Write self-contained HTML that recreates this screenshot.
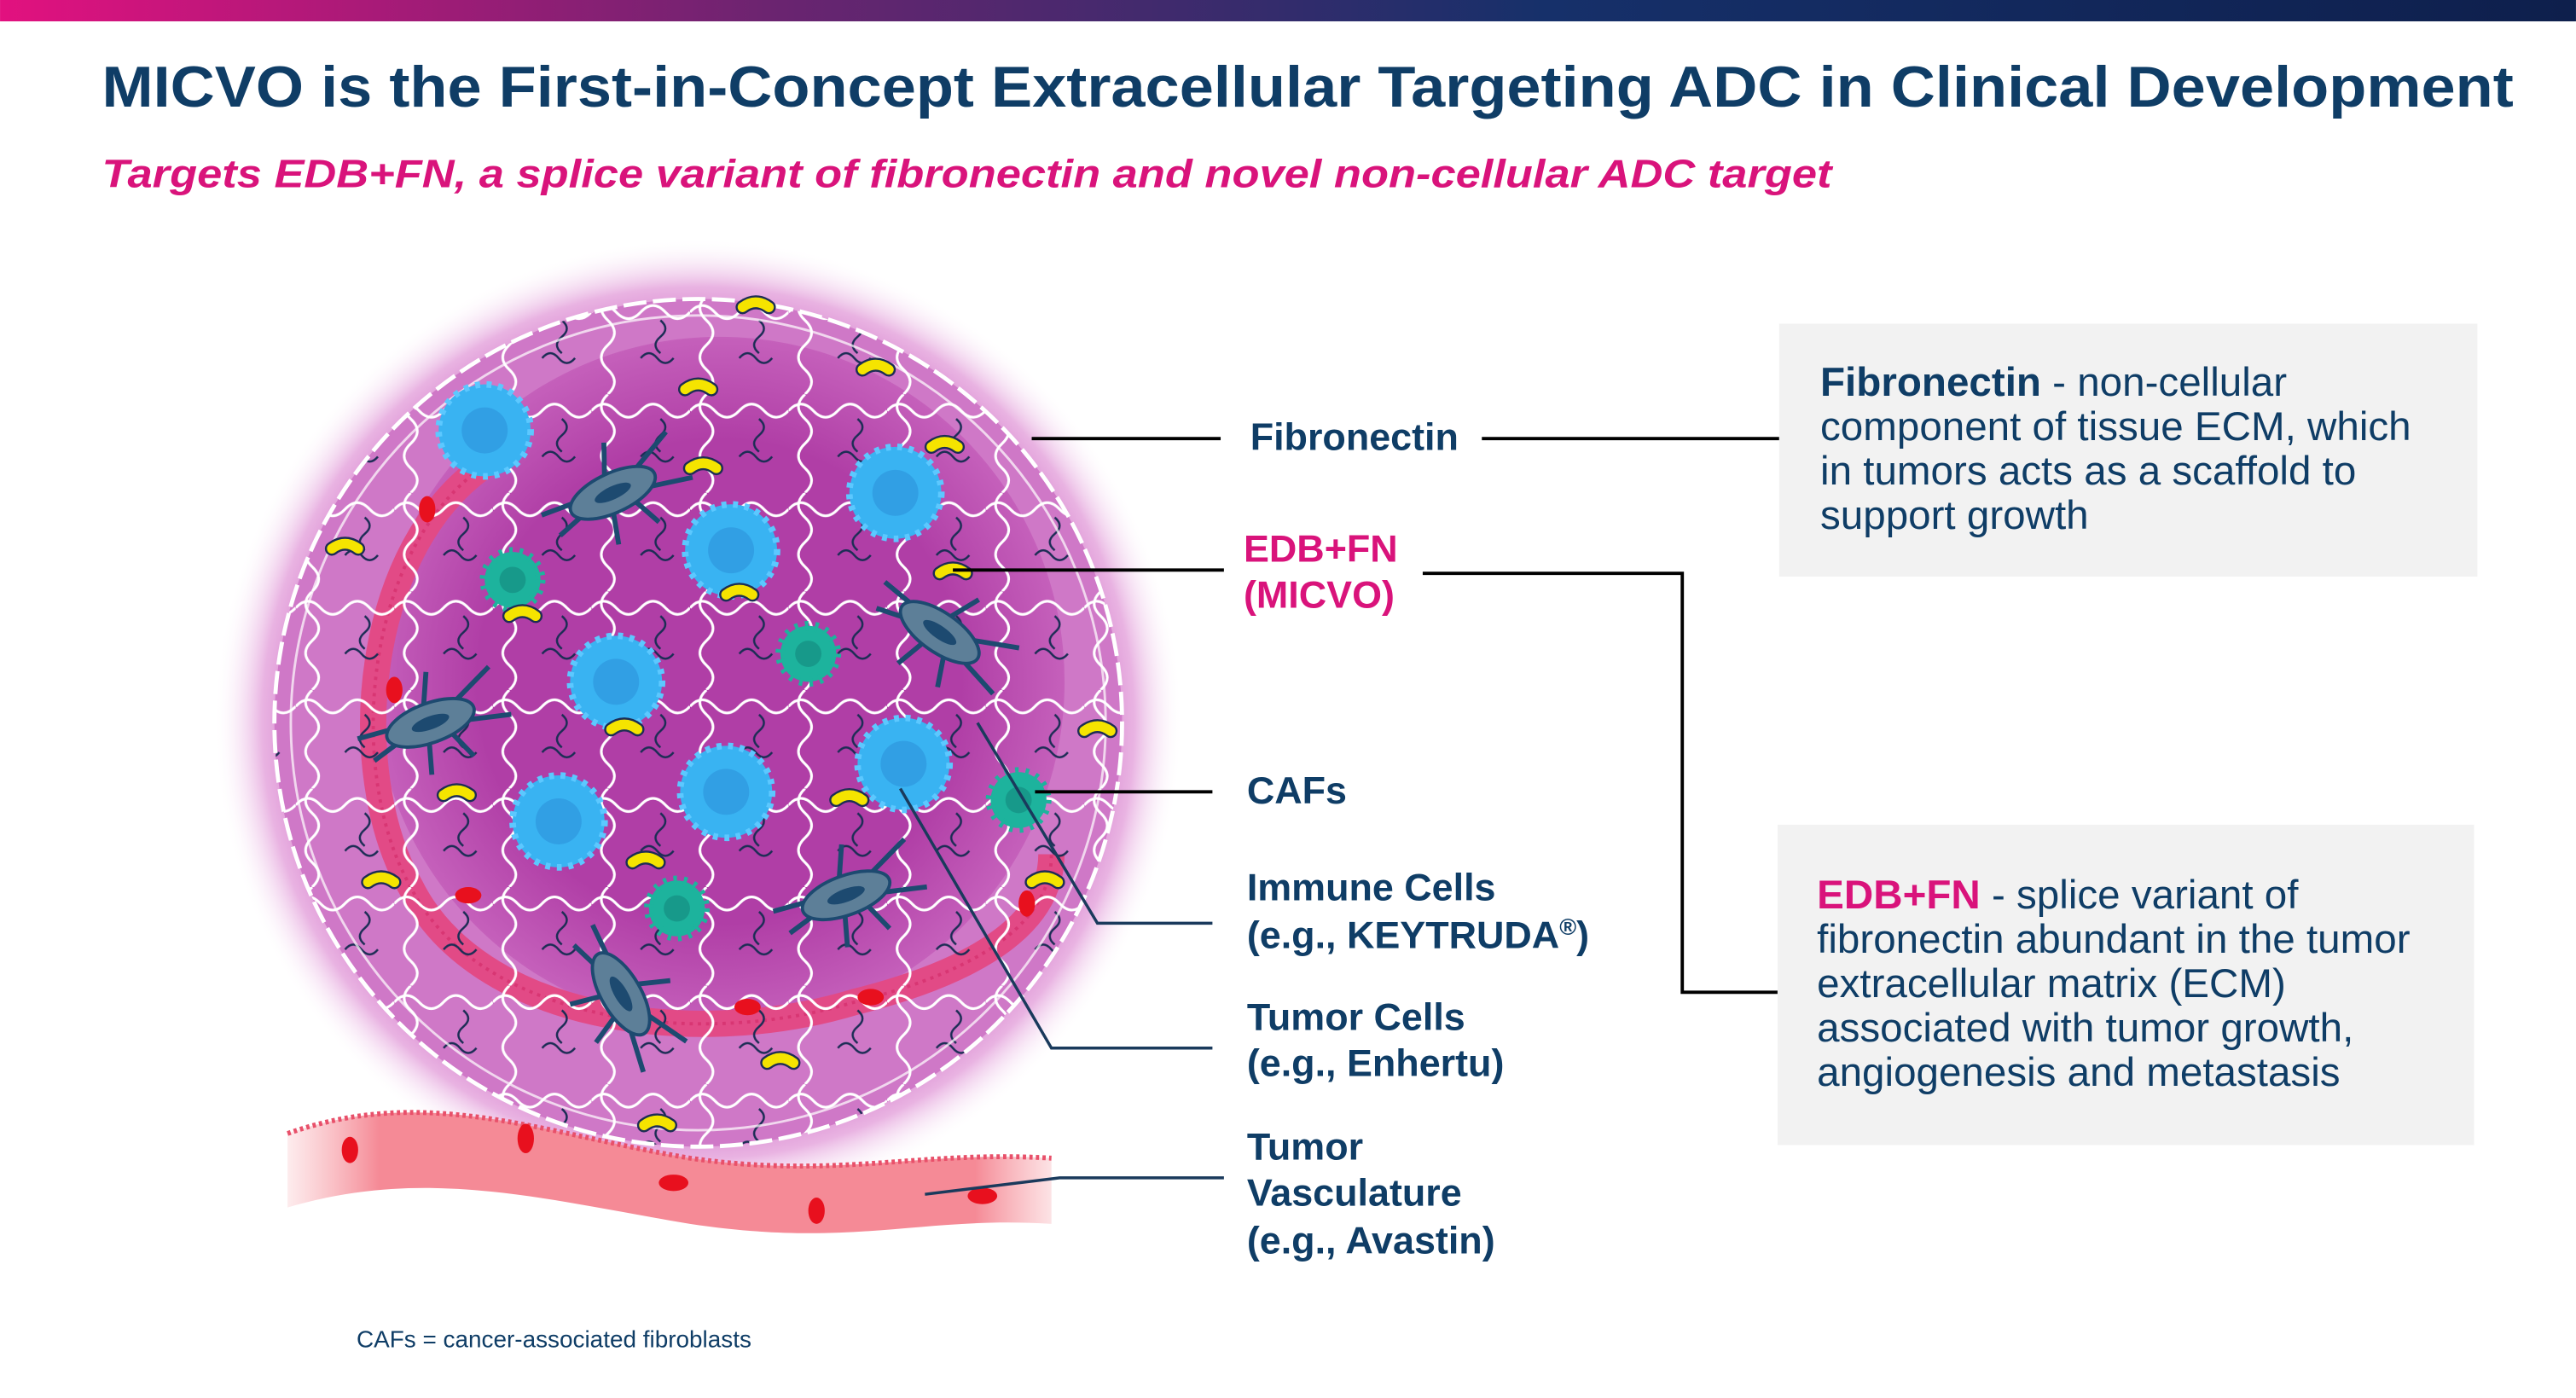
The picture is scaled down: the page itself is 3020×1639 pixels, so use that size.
<!DOCTYPE html>
<html><head><meta charset="utf-8"><style>html,body{margin:0;padding:0;background:#fff}svg{display:block}text{font-family:"Liberation Sans",Arial,sans-serif}</style></head>
<body>
<svg width="3020" height="1639" viewBox="0 0 1568 851" xmlns="http://www.w3.org/2000/svg">
<defs>
<linearGradient id="ban" x1="0" x2="1" y1="0" y2="0"><stop offset="0" stop-color="#e2117f"/><stop offset="0.3" stop-color="#6b2470"/><stop offset="0.6" stop-color="#16306a"/><stop offset="1" stop-color="#0e1f4c"/></linearGradient>
<radialGradient id="glow" cx="0.5" cy="0.5" r="0.5"><stop offset="0.78" stop-color="#cf6fc6"/><stop offset="0.9" stop-color="#e9b3e2"/><stop offset="1" stop-color="#ffffff" stop-opacity="0"/></radialGradient>
<radialGradient id="inner" cx="0.5" cy="0.5" r="0.5"><stop offset="0.7" stop-color="#b03ea6"/><stop offset="1" stop-color="#c560bb"/></radialGradient>
<linearGradient id="ves" x1="0" x2="1"><stop offset="0" stop-color="#f7a0a8" stop-opacity="0.2"/><stop offset="0.12" stop-color="#f58a96"/><stop offset="0.9" stop-color="#f58a96"/><stop offset="1" stop-color="#f7a0a8" stop-opacity="0.3"/></linearGradient>
<pattern id="lat" width="60" height="60" patternUnits="userSpaceOnUse">
<path d="M0 10 q7.5 -8 15 0 t15 0 t15 0 t15 0" fill="none" stroke="#fff" stroke-width="1.6"/>
<path d="M10 0 q-8 7.5 0 15 t0 15 t0 15 t0 15" fill="none" stroke="#fff" stroke-width="1.6"/>
<path d="M30 38 q5 -6 10 0 t10 0" fill="none" stroke="#1c2d55" stroke-width="1.3"/>
<path d="M42 15 q6 5 0 10 t0 10" fill="none" stroke="#1c2d55" stroke-width="1.3"/>
</pattern>
<clipPath id="cb"><circle cx="425" cy="440" r="258"/></clipPath>
<g id="pill"><path d="M-8 -3 Q0 -9 8 -3" fill="none" stroke="#1c2d55" stroke-width="8.5" stroke-linecap="round"/><path d="M-8 -3 Q0 -9 8 -3" fill="none" stroke="#f5e400" stroke-width="6" stroke-linecap="round"/></g>
<g id="blue"><circle r="28" fill="#39b3f2"/><circle r="14" fill="#2e97de" opacity="0.7"/><circle r="28" fill="none" stroke="#5cc8ff" stroke-width="4" stroke-dasharray="3 4"/></g>
<g id="teal"><circle r="17" fill="#1db39d" stroke="#1db39d" stroke-width="6" stroke-dasharray="2 4"/><circle r="8" fill="#17998a"/></g>
<g id="caf"><path d="M-45 -6 L-20 -4 M-40 10 L-20 4 M20 -8 L45 -20 M22 6 L48 12 M0 -12 L8 -30 M-5 12 L-10 30 M10 10 L18 28" stroke="#1d4a70" stroke-width="3"/><ellipse rx="28" ry="12" fill="#5d7f98" stroke="#1d4a70" stroke-width="2"/><ellipse rx="12" ry="4" fill="#1d4a70"/></g>
</defs>
<rect x="0" y="0" width="1568" height="13" fill="url(#ban)"/>
<text x="62" y="65" font-size="35" font-weight="bold" fill="#0f3d66" textLength="1468" lengthAdjust="spacingAndGlyphs">MICVO is the First-in-Concept Extracellular Targeting ADC in Clinical Development</text>
<text x="62" y="114" font-size="24" font-weight="bold" font-style="italic" fill="#d9137b" textLength="1053" lengthAdjust="spacingAndGlyphs">Targets EDB+FN, a splice variant of fibronectin and novel non-cellular ADC target</text>

<!-- illustration -->
<circle cx="425" cy="440" r="295" fill="url(#glow)"/>
<circle cx="425" cy="440" r="258" fill="#cf78c7"/>
<circle cx="438" cy="415" r="210" fill="url(#inner)"/>
<path d="M300 280 C220 330 210 470 250 540 C290 620 420 640 520 610 C600 590 640 560 640 520" fill="none" stroke="#e24a86" stroke-width="16"/>
<path d="M300 280 C220 330 210 470 250 540 C290 620 420 640 520 610 C600 590 640 560 640 520" fill="none" stroke="#d83673" stroke-width="2" stroke-dasharray="2 3"/>
<g clip-path="url(#cb)"><rect x="160" y="180" width="540" height="520" fill="url(#lat)"/></g>
<circle cx="425" cy="440" r="258" fill="none" stroke="#fff" stroke-width="2.5" stroke-dasharray="14 4"/>
<circle cx="425" cy="440" r="248" fill="none" stroke="#fff" stroke-width="1.5" opacity="0.7"/>
<path d="M175 690 C260 660 330 690 420 705 C510 718 560 700 640 705 L640 745 C560 740 520 760 420 745 C330 730 260 710 175 735 Z" fill="url(#ves)"/>
<path d="M175 690 C260 660 330 690 420 705 C510 718 560 700 640 705" fill="none" stroke="#e8506a" stroke-width="3" stroke-dasharray="2 2"/>
<g fill="#e8101e"><ellipse cx="213" cy="700" rx="5" ry="8"/><ellipse cx="320" cy="693" rx="5" ry="9"/><ellipse cx="410" cy="720" rx="9" ry="5"/><ellipse cx="497" cy="737" rx="5" ry="8"/><ellipse cx="598" cy="728" rx="9" ry="5"/><ellipse cx="260" cy="310" rx="5" ry="8"/><ellipse cx="240" cy="420" rx="5" ry="8"/><ellipse cx="285" cy="545" rx="8" ry="5"/><ellipse cx="455" cy="613" rx="8" ry="5"/><ellipse cx="530" cy="607" rx="8" ry="5"/><ellipse cx="625" cy="550" rx="5" ry="8"/></g>
<use href="#blue" x="295" y="262"/><use href="#blue" x="545" y="300"/><use href="#blue" x="445" y="335"/><use href="#blue" x="375" y="415"/><use href="#blue" x="340" y="500"/><use href="#blue" x="442" y="482"/><use href="#blue" x="550" y="465"/>
<use href="#teal" x="312" y="353"/><use href="#teal" x="492" y="398"/><use href="#teal" x="412" y="553"/><use href="#teal" x="620" y="487"/>
<g transform="translate(373,300) rotate(-25)"><use href="#caf"/></g>
<g transform="translate(262,440) rotate(-20)"><use href="#caf"/></g>
<g transform="translate(572,385) rotate(35)"><use href="#caf"/></g>
<g transform="translate(515,545) rotate(-20)"><use href="#caf"/></g>
<g transform="translate(378,605) rotate(60)"><use href="#caf"/></g>
<g><use href="#pill" x="460" y="190"/><use href="#pill" x="533" y="228"/><use href="#pill" x="425" y="240"/><use href="#pill" x="575" y="275"/><use href="#pill" x="428" y="288"/><use href="#pill" x="210" y="337"/><use href="#pill" x="318" y="378"/><use href="#pill" x="580" y="352"/><use href="#pill" x="380" y="447"/><use href="#pill" x="668" y="448"/><use href="#pill" x="278" y="487"/><use href="#pill" x="517" y="490"/><use href="#pill" x="636" y="540"/><use href="#pill" x="232" y="540"/><use href="#pill" x="393" y="528"/><use href="#pill" x="475" y="650"/><use href="#pill" x="400" y="688"/><use href="#pill" x="450" y="365"/></g>

<!-- connectors -->
<g stroke="#000" stroke-width="2" fill="none">
<path d="M628 267 H743"/><path d="M902 267 H1083"/>
<path d="M580 347 H745"/><path d="M866 349 H1024 V604 H1082"/>
<path d="M630 482 H738"/>
</g>
<g stroke="#1a3a5c" stroke-width="1.8" fill="none">
<path d="M595 440 L668 562 H738"/>
<path d="M548 480 L640 638 H738"/>
<path d="M563 727 L645 717 H745"/>
</g>

<!-- labels -->
<g font-weight="bold" font-size="23.3" fill="#0f3d66">
<text x="761" y="274">Fibronectin</text>
<text x="757" y="342" fill="#d9137b">EDB+FN</text>
<text x="757" y="370" fill="#d9137b">(MICVO)</text>
<text x="759" y="489">CAFs</text>
<text x="759" y="548">Immune Cells</text>
<text x="759" y="577">(e.g., KEYTRUDA<tspan font-size="14" dy="-8">®</tspan><tspan dy="8">)</tspan></text>
<text x="759" y="627">Tumor Cells</text>
<text x="759" y="655">(e.g., Enhertu)</text>
<text x="759" y="706">Tumor</text>
<text x="759" y="734">Vasculature</text>
<text x="759" y="763">(e.g., Avastin)</text>
</g>

<rect x="1083" y="197" width="425" height="154" fill="#f2f2f2"/>
<g font-size="24.7" fill="#0f3d66">
<text x="1108" y="241"><tspan font-weight="bold">Fibronectin</tspan> - non-cellular</text>
<text x="1108" y="268">component of tissue ECM, which</text>
<text x="1108" y="295">in tumors acts as a scaffold to</text>
<text x="1108" y="322">support growth</text>
</g>
<rect x="1082" y="502" width="424" height="195" fill="#f2f2f2"/>
<g font-size="24.7" fill="#0f3d66">
<text x="1106" y="553"><tspan font-weight="bold" fill="#d9137b">EDB+FN</tspan> - splice variant of</text>
<text x="1106" y="580">fibronectin abundant in the tumor</text>
<text x="1106" y="607">extracellular matrix (ECM)</text>
<text x="1106" y="634">associated with tumor growth,</text>
<text x="1106" y="661">angiogenesis and metastasis</text>
</g>
<text x="217" y="820" font-size="14.5" fill="#0f3d66">CAFs = cancer-associated fibroblasts</text>
</svg>
</body></html>
